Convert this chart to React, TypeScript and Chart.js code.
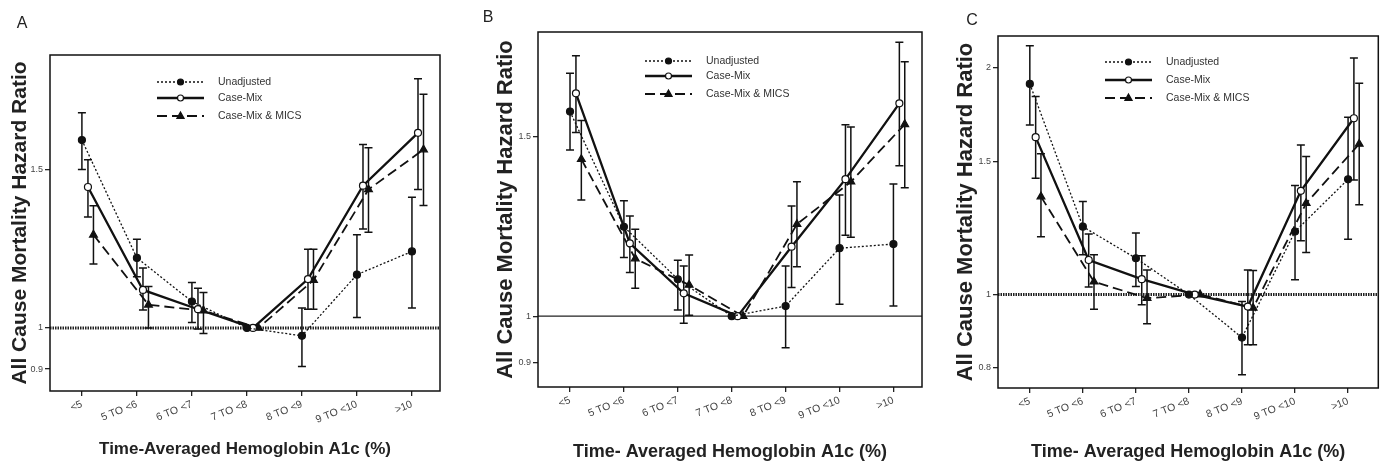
import React, { useEffect, useRef } from 'react';
import { Chart, registerables } from 'chart.js';

Chart.register(...registerables);

const FONT = "'Liberation Sans', Arial, sans-serif";

const categories = ['<5', '5 TO <6', '6 TO <7', '7 TO <8', '8 TO <9', '9 TO <10', '>10'];
const seriesNames = ['Unadjusted', 'Case-Mix', 'Case-Mix & MICS'];

// Panel A
const aUnadj = [1.617, 1.196, 1.07, 1, 0.98, 1.146, 1.216];
const aUnadjLo = [1.5, 1.14, 1.014, null, 0.906, 1.027, 1.052];
const aUnadjHi = [1.734, 1.255, 1.123, null, 1.052, 1.269, 1.397];
const aCase = [1.434, 1.102, 1.049, 1, 1.133, 1.439, 1.647];
const aCaseLo = [1.328, 1.047, 0.997, null, 1.049, 1.288, 1.425];
const aCaseHi = [1.538, 1.166, 1.107, null, 1.223, 1.599, 1.892];
const aMics = [1.269, 1.061, 1.045, 1, 1.13, 1.425, 1.578];
const aMicsLo = [1.178, 1.0, 0.986, null, 1.049, 1.277, 1.368];
const aMicsHi = [1.367, 1.112, 1.095, null, 1.223, 1.585, 1.818];

// Panel B
const bUnadj = [1.588, 1.224, 1.087, 1, 1.023, 1.166, 1.177];
const bUnadjLo = [1.456, 1.142, 1.014, null, 0.931, 1.027, 1.023];
const bUnadjHi = [1.732, 1.298, 1.135, null, 1.12, 1.315, 1.348];
const bCase = [1.655, 1.179, 1.053, 1, 1.17, 1.363, 1.618];
const bCaseLo = [1.515, 1.104, 0.984, null, 1.067, 1.201, 1.405];
const bCaseHi = [1.802, 1.254, 1.12, null, 1.283, 1.541, 1.857];
const bMics = [1.426, 1.139, 1.073, 1, 1.231, 1.355, 1.543];
const bMicsLo = [1.3, 1.065, 1.002, null, 1.118, 1.195, 1.337];
const bMicsHi = [1.556, 1.217, 1.148, null, 1.355, 1.534, 1.777];

// Panel C
const cUnadj = [1.901, 1.23, 1.117, 1, 0.877, 1.212, 1.421];
const cUnadjLo = [1.677, 1.129, 1.025, null, 0.783, 1.046, 1.184];
const cUnadjHi = [2.136, 1.328, 1.206, null, 0.979, 1.394, 1.717];
const cCase = [1.616, 1.111, 1.048, 1, 0.964, 1.372, 1.712];
const cCaseLo = [1.426, 1.023, 0.969, null, 0.858, 1.178, 1.418];
const cCaseHi = [1.829, 1.203, 1.126, null, 1.078, 1.578, 2.057];
const cMics = [1.348, 1.04, 0.989, 1, 0.96, 1.321, 1.583];
const cMicsLo = [1.193, 0.956, 0.915, null, 0.858, 1.137, 1.315];
const cMicsHi = [1.536, 1.129, 1.078, null, 1.076, 1.523, 1.905];

const abTicks = [0.9, 1, 1.5];
const cTicks = [0.8, 1, 1.5, 2];

const seriesOffsets = [0, 0.11, 0.21];

const panels = [
  {
    letter: 'A', left: 0, width: 460, yAxisW: 50, padTop: 55, padRight: 20, xAxisH: 72,
    yTitlePad: 8, yTitleSize: 21, xTitlePad: 3, xTitleSize: 17,
    xMin: -0.58, xMax: 6.51, yMin: 0.851, yMax: 2.01, yTicks: abTicks,
    xTitle: 'Time-Averaged Hemoglobin A1c (%)',
    letterPos: [22, 24], legendRows: [27, 43, 61], refStyle: 'dotted',
    series: [[aUnadj, aUnadjLo, aUnadjHi], [aCase, aCaseLo, aCaseHi], [aMics, aMicsLo, aMicsHi]],
  },
  {
    letter: 'B', left: 460, width: 470, yAxisW: 78, padTop: 32, padRight: 8, xAxisH: 76,
    yTitlePad: 33, yTitleSize: 22, xTitlePad: 0, xTitleSize: 18,
    xMin: -0.594, xMax: 6.53, yMin: 0.852, yMax: 1.901, yTicks: abTicks,
    xTitle: 'Time- Averaged Hemoglobin A1c (%)',
    letterPos: [28, 18], legendRows: [29, 44, 62], refStyle: 'solid',
    series: [[bUnadj, bUnadjLo, bUnadjHi], [bCase, bCaseLo, bCaseHi], [bMics, bMicsLo, bMicsHi]],
  },
  {
    letter: 'C', left: 930, width: 454, yAxisW: 68, padTop: 36, padRight: 2, xAxisH: 75,
    yTitlePad: 23, yTitleSize: 22, xTitlePad: 0, xTitleSize: 18,
    xMin: -0.6, xMax: 6.57, yMin: 0.752, yMax: 2.2, yTicks: cTicks,
    xTitle: 'Time- Averaged Hemoglobin A1c (%)',
    letterPos: [42, 21], legendRows: [26, 44, 62], refStyle: 'dotted',
    series: [[cUnadj, cUnadjLo, cUnadjHi], [cCase, cCaseLo, cCaseHi], [cMics, cMicsLo, cMicsHi]],
  },
];

const seriesStyles = [
  { borderWidth: 1.3, borderDash: [2, 2], pointStyle: 'circle', pointRadius: 3.5, fill: '#111' },
  { borderWidth: 2.3, borderDash: [], pointStyle: 'circle', pointRadius: 3.5, fill: '#fff' },
  { borderWidth: 1.8, borderDash: [10, 5], pointStyle: 'triangle', pointRadius: 4.5, fill: '#111' },
];

function drawMarker(ctx: CanvasRenderingContext2D, style: string, x: number, y: number, r: number, fill: string) {
  ctx.save();
  ctx.setLineDash([]);
  ctx.fillStyle = fill;
  ctx.strokeStyle = '#111';
  ctx.lineWidth = 1.2;
  ctx.beginPath();
  if (style === 'triangle') {
    ctx.moveTo(x, y - r);
    ctx.lineTo(x + r * 0.9, y + r * 0.6);
    ctx.lineTo(x - r * 0.9, y + r * 0.6);
    ctx.closePath();
  } else {
    ctx.arc(x, y, r, 0, Math.PI * 2);
  }
  ctx.fill();
  ctx.stroke();
  ctx.restore();
}

function Panel({ cfg }: { cfg: any }) {
  const ref = useRef<HTMLCanvasElement>(null);
  useEffect(() => {
    if (!ref.current) return;
    const datasets = cfg.series.map((s: any[], si: number) => {
      const st = seriesStyles[si];
      return {
        label: seriesNames[si],
        data: s[0].map((v: number, i: number) => ({ x: i + seriesOffsets[si], y: v })),
        borderColor: '#111',
        borderWidth: st.borderWidth,
        borderDash: st.borderDash,
        pointStyle: st.pointStyle,
        pointRadius: st.pointRadius,
        pointBackgroundColor: st.fill,
        pointBorderColor: '#111',
        pointBorderWidth: 1.2,
        tension: 0,
        fill: false,
      };
    });

    const panelPlugin = {
      id: 'panelExtras',
      beforeDatasetsDraw(chart: any) {
        const { ctx, chartArea, scales } = chart;
        const x = scales.x, y = scales.y;
        const y1 = y.getPixelForValue(1);
        ctx.save();
        ctx.strokeStyle = '#222';
        if (cfg.refStyle === 'dotted') {
          ctx.lineWidth = 3;
          ctx.setLineDash([1.5, 1]);
        } else {
          ctx.lineWidth = 1.4;
        }
        ctx.beginPath();
        ctx.moveTo(chartArea.left, y1);
        ctx.lineTo(chartArea.right, y1);
        ctx.stroke();
        ctx.restore();
        ctx.save();
        ctx.strokeStyle = '#111';
        ctx.lineWidth = 1.5;
        cfg.series.forEach((s: any[], si: number) => {
          const lo = s[1], hi = s[2];
          lo.forEach((l: number | null, i: number) => {
            const h = hi[i];
            if (l == null || h == null) return;
            const px = x.getPixelForValue(i + seriesOffsets[si]);
            const pl = y.getPixelForValue(l);
            const ph = y.getPixelForValue(h);
            ctx.beginPath();
            ctx.moveTo(px, pl); ctx.lineTo(px, ph);
            ctx.moveTo(px - 4, pl); ctx.lineTo(px + 4, pl);
            ctx.moveTo(px - 4, ph); ctx.lineTo(px + 4, ph);
            ctx.stroke();
          });
        });
        ctx.restore();
      },
      afterDraw(chart: any) {
        const { ctx, chartArea } = chart;
        ctx.save();
        ctx.strokeStyle = '#111';
        ctx.lineWidth = 1.5;
        ctx.strokeRect(chartArea.left, chartArea.top, chartArea.right - chartArea.left, chartArea.bottom - chartArea.top);
        ctx.restore();
        const x0 = chartArea.left + 107;
        const x1 = x0 + 47;
        const tx = chartArea.left + 168;
        chart.data.datasets.forEach((ds: any, i: number) => {
          const yy = chartArea.top + cfg.legendRows[i];
          ctx.save();
          ctx.strokeStyle = '#111';
          ctx.lineWidth = ds.borderWidth;
          ctx.setLineDash(ds.borderDash || []);
          ctx.beginPath();
          ctx.moveTo(x0, yy);
          ctx.lineTo(x1, yy);
          ctx.stroke();
          ctx.restore();
          drawMarker(ctx, ds.pointStyle, (x0 + x1) / 2, yy, ds.pointRadius - 0.5, ds.pointBackgroundColor);
          ctx.save();
          ctx.fillStyle = '#333';
          ctx.font = `10.5px ${FONT}`;
          ctx.textBaseline = 'middle';
          ctx.textAlign = 'left';
          ctx.fillText(ds.label, tx, yy);
          ctx.restore();
        });
        ctx.save();
        ctx.fillStyle = '#222';
        ctx.font = `16px ${FONT}`;
        ctx.textBaseline = 'middle';
        ctx.textAlign = 'center';
        ctx.fillText(cfg.letter, cfg.letterPos[0], cfg.letterPos[1]);
        ctx.restore();
      },
    };

    const chart = new Chart(ref.current, {
      type: 'line',
      data: { datasets },
      options: {
        animation: false,
        responsive: false,
        layout: { padding: { left: 0, right: cfg.padRight, top: cfg.padTop, bottom: 0 } },
        plugins: { legend: { display: false }, tooltip: { enabled: false } },
        scales: {
          x: {
            type: 'linear',
            min: cfg.xMin,
            max: cfg.xMax,
            afterBuildTicks: (s: any) => { s.ticks = categories.map((_, i) => ({ value: i })); },
            afterFit: (s: any) => { s.height = cfg.xAxisH; },
            ticks: {
              autoSkip: false,
              minRotation: 22,
              maxRotation: 22,
              padding: 2,
              color: '#444',
              font: { size: 10.5, family: FONT },
              callback: (v: any) => categories[Math.round(v)] ?? '',
            },
            grid: { drawOnChartArea: false, drawTicks: true, tickLength: 5, color: '#222', lineWidth: 1.3 },
            border: { display: false },
            title: {
              display: true,
              text: cfg.xTitle,
              color: '#222',
              font: { size: cfg.xTitleSize, weight: 'bold', family: FONT },
              padding: { top: 0, bottom: cfg.xTitlePad },
            },
          },
          y: {
            type: 'logarithmic',
            min: cfg.yMin,
            max: cfg.yMax,
            afterBuildTicks: (s: any) => { s.ticks = cfg.yTicks.map((v: number) => ({ value: v })); },
            afterFit: (s: any) => { s.width = cfg.yAxisW; },
            ticks: {
              autoSkip: false,
              padding: 2,
              color: '#444',
              font: { size: 9, family: FONT },
              callback: (v: any) => String(v),
            },
            grid: { drawOnChartArea: false, drawTicks: true, tickLength: 5, color: '#222', lineWidth: 1.3 },
            border: { display: false },
            title: {
              display: true,
              text: 'All Cause Mortality Hazard Ratio',
              color: '#222',
              font: { size: cfg.yTitleSize, weight: 'bold', family: FONT },
              padding: { top: cfg.yTitlePad, bottom: 0 },
            },
          },
        },
      } as any,
      plugins: [panelPlugin],
    });
    return () => chart.destroy();
  }, [cfg]);
  return (
    <canvas
      ref={ref}
      width={cfg.width}
      height={463}
      style={{ position: 'absolute', left: cfg.left, top: 0, width: cfg.width, height: 463 }}
    />
  );
}

export default function App() {
  return (
    <div style={{ position: 'absolute', left: 0, top: 0, width: 1384, height: 463, background: '#fff', overflow: 'hidden' }}>
      {panels.map((p) => (
        <Panel key={p.letter} cfg={p} />
      ))}
    </div>
  );
}
